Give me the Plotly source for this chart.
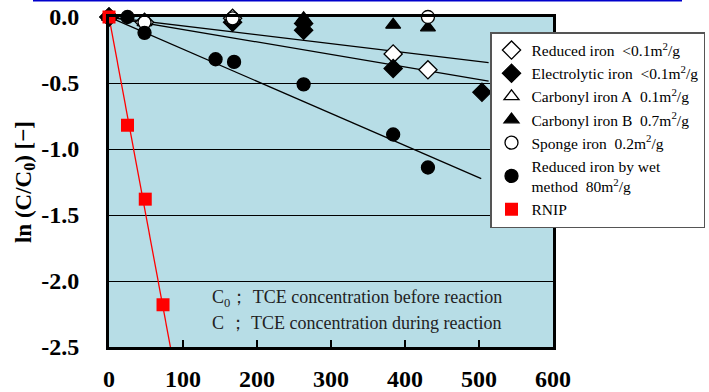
import plotly.graph_objects as go

# ---- data (time [min], ln(C/C0)) ----
reduced_t = [0, 48, 167, 384, 431]
reduced_y = [0, -0.04, -0.01, -0.28, -0.40]
electro_t = [0, 167, 263, 263, 384, 504]
electro_y = [0, -0.04, -0.05, -0.10, -0.39, -0.57]
carbA_t = [0, 48, 167]
carbA_y = [0, -0.04, -0.02]
carbB_t = [263, 384, 431]
carbB_y = [-0.01, -0.06, -0.08]
sponge_t = [48, 167, 431]
sponge_y = [-0.04, -0.01, 0.0]
wet_t = [25, 48, 144, 169, 263, 384, 431]
wet_y = [0, -0.12, -0.32, -0.34, -0.51, -0.89, -1.14]
rnip_t = [0, 25, 49, 73]
rnip_y = [0, -0.82, -1.38, -2.18]

# regression line end points
fit_upper_x = [0, 513]
fit_upper_y = [0, -0.346]
fit_lower_x = [0, 513]
fit_lower_y = [0, -0.485]
fit_wet_x = [0, 503]
fit_wet_y = [0, -1.225]
fit_rnip_x = [0, 83]
fit_rnip_y = [0, -2.5]

x_ticks = [0, 100, 200, 300, 400, 500, 600]
y_ticks = [0.0, -0.5, -1.0, -1.5, -2.0, -2.5]
y_ticktext = ["0.0", "-0.5", "-1.0", "-1.5", "-2.0", "-2.5"]

names = [
    "Reduced iron&nbsp;&nbsp;&lt;0.1m<sup>2</sup>/g",
    "Electrolytic iron&nbsp;&nbsp;&lt;0.1m<sup>2</sup>/g",
    "Carbonyl iron A&nbsp;&nbsp;0.1m<sup>2</sup>/g",
    "Carbonyl iron B&nbsp;&nbsp;0.7m<sup>2</sup>/g",
    "Sponge iron&nbsp;&nbsp;0.2m<sup>2</sup>/g",
    "Reduced iron by wet<br>method&nbsp;&nbsp;80m<sup>2</sup>/g",
    "RNIP",
]

SERIF = "Liberation Serif, Times New Roman, serif"
fig = go.Figure()

# fit lines
for fx, fy, col in [(fit_upper_x, fit_upper_y, "black"), (fit_lower_x, fit_lower_y, "black"),
                    (fit_wet_x, fit_wet_y, "black"), (fit_rnip_x, fit_rnip_y, "#ff0000")]:
    fig.add_trace(go.Scatter(x=fx, y=fy, mode="lines", line=dict(color=col, width=1.3),
                             showlegend=False, hoverinfo="skip"))

def mk(t, y, name, symbol, fill, size, line_w=1.3):
    fig.add_trace(go.Scatter(
        x=t, y=y, mode="markers", name=name, cliponaxis=False,
        marker=dict(symbol=symbol, size=size, color=fill,
                    line=dict(color="black" if fill != "#ff0000" else "#ff0000", width=line_w))))

mk(reduced_t, reduced_y, names[0], "diamond", "white", 14)
mk(electro_t, electro_y, names[1], "diamond", "black", 14)
mk(carbA_t, carbA_y, names[2], "triangle-up", "white", 13)
mk(carbB_t, carbB_y, names[3], "triangle-up", "black", 13)
mk(sponge_t, sponge_y, names[4], "circle", "white", 13)
mk(wet_t, wet_y, names[5], "circle", "black", 13)
mk(rnip_t, rnip_y, names[6], "square", "#ff0000", 13, 0)

fig.update_layout(
    width=709, height=392,
    margin=dict(l=109, r=156, t=17, b=45, autoexpand=False),
    paper_bgcolor="white", plot_bgcolor="#b7dde6",
    font=dict(family=SERIF, color="black"),
    showlegend=True,
    legend=dict(x=(490 - 109) / 444, xanchor="left", y=(347 - 32) / 330, yanchor="top",
                bgcolor="white", bordercolor="#555555", borderwidth=1.5,
                font=dict(family=SERIF, size=15.5, color="black"),
                itemwidth=30, tracegroupgap=0),
    xaxis=dict(range=[0, 600], tickvals=x_ticks, ticktext=[str(v) for v in x_ticks],
               showgrid=False, zeroline=False, showline=True, linecolor="black",
               linewidth=3, mirror=True, ticks="inside", ticklen=7, tickwidth=1.5,
               tickcolor="black", ticklabelstandoff=8, automargin=False,
               tickfont=dict(family=SERIF, size=24, color="black", weight="bold")),
    yaxis=dict(range=[-2.5, 0], tickvals=y_ticks, ticktext=y_ticktext,
               showgrid=True, gridcolor="black", gridwidth=1.2, zeroline=False,
               showline=True, linecolor="black", linewidth=3, mirror=True, ticks="",
               ticklabelstandoff=22, automargin=False,
               tickfont=dict(family=SERIF, size=24, color="black", weight="bold"),
               title=dict(text="ln (C/C<sub>0</sub>) [−]", standoff=4,
                          font=dict(family=SERIF, size=23, color="black", weight="bold"))),
)

fig.add_annotation(x=136, y=-2.136, xref="x", yref="y", xanchor="left", yanchor="middle",
                   text="C<sub>0</sub>；&nbsp;TCE concentration before reaction", showarrow=False,
                   font=dict(family=SERIF, size=18, color="#222222"))
fig.add_annotation(x=136, y=-2.32, xref="x", yref="y", xanchor="left", yanchor="middle",
                   text="C&nbsp;；&nbsp;TCE concentration during reaction", showarrow=False,
                   font=dict(family=SERIF, size=18, color="#222222"))

# blue rule along the very top of the picture
fig.add_shape(type="line", xref="paper", yref="paper",
              x0=(33 - 109) / 444, x1=(682 - 109) / 444, y0=(347 - 0.8) / 330, y1=(347 - 0.8) / 330,
              line=dict(color="#0000cc", width=1.5))

fig.write_html("out.html", config={"displayModeBar": False},
               post_script="document.body.style.margin='0';document.body.style.overflow='hidden';")
